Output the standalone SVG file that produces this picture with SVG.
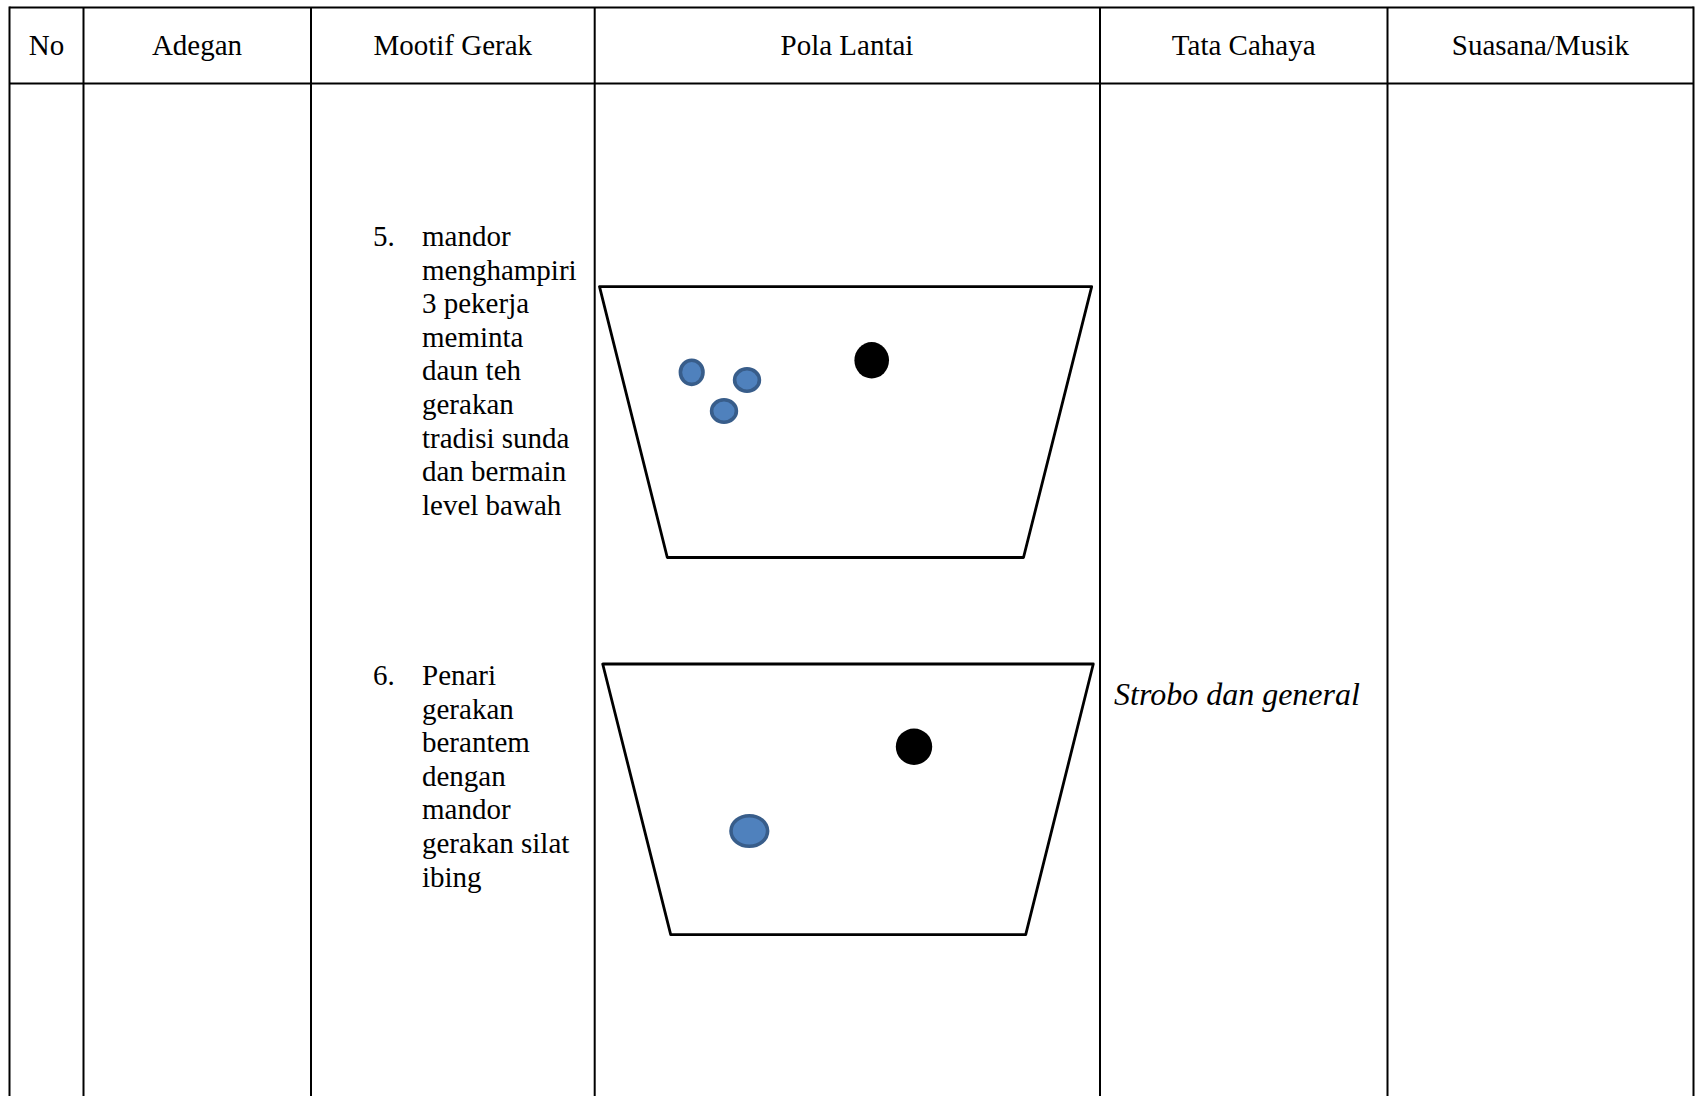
<svg xmlns="http://www.w3.org/2000/svg" width="1701" height="1096" viewBox="0 0 1701 1096">
  <style>
    .grid { stroke: #000; stroke-width: 2; fill: none; }
    .hdr { font-family: "Liberation Serif", "Times New Roman", serif; font-size: 29px; fill: #000; text-anchor: middle; }
    .body { font-family: "Liberation Serif", "Times New Roman", serif; font-size: 29px; fill: #000; }
    .light { font-family: "Liberation Serif", "Times New Roman", serif; font-size: 32px; font-style: italic; fill: #000; }
    .stage { fill: #fff; stroke: #000; stroke-width: 2.8; stroke-linejoin: round; }
    .dancer { fill: #4F81BD; stroke: #385D8A; stroke-width: 3.6; }
    .mandor { fill: #000; }
  </style>

  <rect x="0" y="0" width="1701" height="1096" fill="#fff"/>

  <!-- table grid -->
  <g id="table-grid" class="grid">
    <line x1="9.5" y1="7.5" x2="1693.5" y2="7.5"/>
    <line x1="9.5" y1="83.5" x2="1693.5" y2="83.5"/>
    <line x1="9.5" y1="6.5" x2="9.5" y2="1096"/>
    <line x1="83.5" y1="7.5" x2="83.5" y2="1096"/>
    <line x1="311" y1="7.5" x2="311" y2="1096"/>
    <line x1="594.7" y1="7.5" x2="594.7" y2="1096"/>
    <line x1="1100" y1="7.5" x2="1100" y2="1096"/>
    <line x1="1387.5" y1="7.5" x2="1387.5" y2="1096"/>
    <line x1="1693.5" y1="6.5" x2="1693.5" y2="1096"/>
  </g>

  <!-- header row -->
  <g id="header">
    <text class="hdr" x="46.5" y="55">No</text>
    <text class="hdr" x="197" y="55">Adegan</text>
    <text class="hdr" x="452.8" y="55">Mootif Gerak</text>
    <text class="hdr" x="847" y="55">Pola Lantai</text>
    <text class="hdr" x="1243.7" y="55">Tata Cahaya</text>
    <text class="hdr" x="1540.4" y="55">Suasana/Musik</text>
  </g>

  <!-- movement motif 5 -->
  <g id="motif-5">
    <text class="body" x="373" y="246">5.</text>
    <text class="body" x="422" y="246">mandor</text>
    <text class="body" x="422" y="279.6">menghampiri</text>
    <text class="body" x="422" y="313.2">3 pekerja</text>
    <text class="body" x="422" y="346.8">meminta</text>
    <text class="body" x="422" y="380.4">daun teh</text>
    <text class="body" x="422" y="414">gerakan</text>
    <text class="body" x="422" y="447.6">tradisi sunda</text>
    <text class="body" x="422" y="481.2">dan bermain</text>
    <text class="body" x="422" y="514.8">level bawah</text>
  </g>

  <!-- movement motif 6 -->
  <g id="motif-6">
    <text class="body" x="373" y="685">6.</text>
    <text class="body" x="422" y="685">Penari</text>
    <text class="body" x="422" y="718.6">gerakan</text>
    <text class="body" x="422" y="752.2">berantem</text>
    <text class="body" x="422" y="785.8">dengan</text>
    <text class="body" x="422" y="819.4">mandor</text>
    <text class="body" x="422" y="853">gerakan silat</text>
    <text class="body" x="422" y="886.6">ibing</text>
  </g>

  <!-- floor pattern for scene 5 -->
  <g id="floor-5">
    <polygon class="stage" points="599.5,286.7 1091.7,286.7 1023.5,557.5 667.3,557.5"/>
    <ellipse class="dancer" cx="691.7" cy="372.3" rx="11.3" ry="12.1"/>
    <ellipse class="dancer" cx="747" cy="380" rx="12.4" ry="11.2"/>
    <ellipse class="dancer" cx="724" cy="411" rx="12.4" ry="11.2"/>
    <ellipse class="mandor" cx="871.7" cy="360.3" rx="17.3" ry="18.2"/>
  </g>

  <!-- floor pattern for scene 6 -->
  <g id="floor-6">
    <polygon class="stage" points="602.7,664 1093.3,664 1025.7,934.7 670.7,934.7"/>
    <ellipse class="mandor" cx="914" cy="746.7" rx="18.2" ry="18.2"/>
    <ellipse class="dancer" cx="749.3" cy="831" rx="18.3" ry="15.3"/>
  </g>

  <!-- lighting -->
  <g id="lighting">
    <text class="light" x="1114" y="705">Strobo dan general</text>
  </g>
</svg>
